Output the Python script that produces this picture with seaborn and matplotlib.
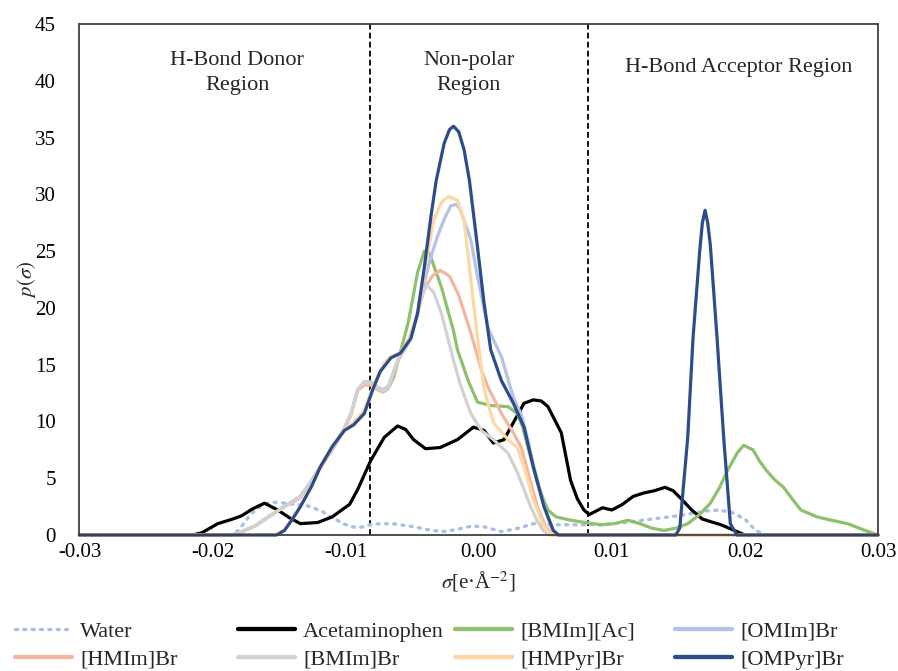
import matplotlib
matplotlib.use("Agg")
import matplotlib.pyplot as plt
import seaborn as sns
from matplotlib.lines import Line2D

# ---- sigma-profile data: sigma [e/A^2] and p(sigma) ----
water_sigma = [-0.030, -0.0184, -0.0178, -0.0171, -0.0163, -0.0156, -0.0145, -0.0128, -0.0118,
               -0.0111, -0.0102, -0.0094, -0.0088, -0.0079, -0.0065, -0.0050, -0.0035, -0.0025,
               -0.0012, -0.0005, 0.0005, 0.0017, 0.0030, 0.0041, 0.0055, 0.0070, 0.0092, 0.0110,
               0.0130, 0.0150, 0.0170, 0.0180, 0.0190, 0.0200, 0.0208, 0.0215, 0.030]
water_p = [0, 0, 0.8, 1.9, 2.6, 2.9, 2.8, 2.55, 2.1,
           1.6, 1.0, 0.7, 0.7, 0.97, 1.0, 0.75, 0.4, 0.3,
           0.6, 0.8, 0.7, 0.3, 0.6, 1.0, 0.9, 0.9, 0.9, 1.1,
           1.4, 1.7, 2.1, 2.2, 2.0, 1.4, 0.4, 0, 0]

acet_sigma = [-0.030, -0.0215, -0.0208, -0.0196, -0.0185, -0.0178, -0.0170, -0.0161, -0.0151,
              -0.0142, -0.0134, -0.0121, -0.0110, -0.0103, -0.0097, -0.0091, -0.0081, -0.0071,
              -0.0061, -0.0055, -0.0049, -0.0040, -0.0029, -0.0016, -0.0004, 0.0004, 0.0011,
              0.0019, 0.0026, 0.0034, 0.0041, 0.0047, 0.0052, 0.0062, 0.0069, 0.0074, 0.0079,
              0.0083, 0.0088, 0.0093, 0.0100, 0.0108, 0.0116, 0.0124, 0.0132, 0.0140, 0.0146,
              0.0152, 0.0160, 0.0168, 0.0182, 0.0192, 0.0200, 0.030]
acet_p = [0, 0, 0.2, 1.0, 1.4, 1.7, 2.3, 2.8, 2.2,
          1.5, 1.0, 1.1, 1.6, 2.2, 2.7, 4.0, 6.6, 8.6,
          9.6, 9.3, 8.4, 7.6, 7.7, 8.4, 9.5, 9.2, 8.1,
          8.4, 9.9, 11.6, 11.9, 11.8, 11.3, 9.0, 4.8, 3.2, 2.2,
          1.8, 2.1, 2.4, 2.2, 2.7, 3.4, 3.7, 3.9, 4.2, 3.9,
          3.2, 2.2, 1.4, 0.9, 0.4, 0, 0]

bmimac_sigma = [-0.030, -0.0185, -0.0178, -0.0168, -0.0158, -0.0146, -0.0134, -0.0125, -0.0116,
                -0.0108, -0.0101, -0.0096, -0.0091, -0.0086, -0.0081, -0.0076, -0.0072, -0.0068,
                -0.0064, -0.0058, -0.0053, -0.0046, -0.0041, -0.0037, -0.0028, -0.0019, -0.0016,
                -0.0008, -0.0001, 0.0009, 0.0022, 0.0029, 0.0033, 0.0037, 0.0044, 0.0049, 0.0052,
                0.0058, 0.0069, 0.0080, 0.0092, 0.0102, 0.0112, 0.0121, 0.0130, 0.0139, 0.0148,
                0.0157, 0.0166, 0.0174, 0.0181, 0.0187, 0.0194, 0.0199, 0.0206, 0.0211, 0.0216,
                0.0222, 0.0229, 0.0236, 0.0242, 0.0254, 0.0265, 0.0277, 0.0288, 0.0300]
bmimac_p = [0, 0, 0.3, 0.8, 1.6, 2.5, 3.4, 4.9, 6.6,
            8.0, 9.4, 10.7, 12.8, 13.3, 13.3, 12.8, 12.6, 12.9,
            13.9, 16.5, 18.7, 23.1, 25.0, 24.8, 21.8, 18.0, 16.3,
            13.6, 11.7, 11.4, 11.3, 10.7, 9.5, 7.7, 4.6, 3.0, 2.2,
            1.6, 1.3, 1.1, 0.9, 1.0, 1.3, 1.0, 0.6, 0.4, 0.6,
            1.0, 1.8, 2.8, 4.2, 5.7, 7.2, 7.9, 7.5, 6.5, 5.7,
            4.9, 4.2, 3.1, 2.2, 1.6, 1.3, 1.0, 0.5, 0]

omim_sigma = [-0.030, -0.0185, -0.0178, -0.0168, -0.0158, -0.0146, -0.0134, -0.0125, -0.0116,
              -0.0108, -0.0101, -0.0096, -0.0091, -0.0086, -0.0081, -0.0076, -0.0072, -0.0068,
              -0.0061, -0.0053, -0.0047, -0.0041, -0.0036, -0.0031, -0.0026, -0.0021, -0.0017,
              -0.0014, -0.0006, -0.0001, 0.0007, 0.0017, 0.0026, 0.0032, 0.0036, 0.0041, 0.0049,
              0.0055, 0.0059, 0.030]
omim_p = [0, 0, 0.3, 0.8, 1.6, 2.5, 3.3, 4.8, 6.5,
          7.9, 9.3, 10.6, 12.8, 13.5, 13.5, 13.0, 12.8, 13.1,
          15.3, 16.9, 19.0, 22.2, 24.5, 26.3, 27.8, 29.0, 29.1,
          28.7, 26.0, 22.8, 18.2, 15.7, 12.1, 10.6, 8.8, 6.2, 2.6,
          0.5, 0, 0]

hmim_sigma = [-0.030, -0.0185, -0.0178, -0.0168, -0.0158, -0.0146, -0.0134, -0.0125, -0.0116,
              -0.0108, -0.0101, -0.0096, -0.0091, -0.0086, -0.0081, -0.0076, -0.0072, -0.0068,
              -0.0061, -0.0053, -0.0047, -0.0041, -0.0035, -0.0029, -0.0022, -0.0015, -0.0006,
              0.0002, 0.0007, 0.0017, 0.0026, 0.0032, 0.0037, 0.0044, 0.0050, 0.0055, 0.030]
hmim_p = [0, 0, 0.3, 0.8, 1.6, 2.5, 3.3, 4.8, 6.5,
          7.9, 9.3, 10.6, 12.7, 13.2, 13.2, 12.8, 12.6, 12.9,
          15.3, 17.0, 19.2, 21.6, 22.8, 23.3, 22.8, 21.1, 17.8,
          14.5, 13.0, 10.7, 9.0, 7.7, 5.5, 2.5, 0.8, 0, 0]

bmimbr_sigma = [-0.030, -0.0185, -0.0178, -0.0168, -0.0158, -0.0146, -0.0134, -0.0125, -0.0116,
                -0.0108, -0.0101, -0.0096, -0.0091, -0.0086, -0.0081, -0.0076, -0.0072, -0.0068,
                -0.0061, -0.0053, -0.0047, -0.0042, -0.0039, -0.0034, -0.0028, -0.0019, -0.0014,
                -0.0006, 0.0002, 0.0011, 0.0022, 0.0029, 0.0034, 0.0039, 0.0044, 0.0049, 0.0053,
                0.030]
bmimbr_p = [0, 0, 0.3, 0.8, 1.6, 2.5, 3.4, 4.9, 6.6,
            8.0, 9.4, 10.7, 12.8, 13.4, 13.4, 12.9, 12.7, 13.0,
            15.4, 17.0, 19.2, 21.3, 22.0, 21.4, 19.5, 15.4, 13.3,
            10.7, 9.2, 8.4, 7.2, 5.5, 4.0, 2.5, 1.2, 0.3, 0,
            0]

hmpyr_sigma = [-0.030, -0.0152, -0.0146, -0.0140, -0.0134, -0.0126, -0.0119, -0.0110, -0.0101,
               -0.0094, -0.0086, -0.0079, -0.0071, -0.0066, -0.0059, -0.0051, -0.0046, -0.0041,
               -0.0034, -0.0028, -0.0023, -0.0016, -0.0011, -0.0006, -0.0001, 0.0004, 0.0011,
               0.0022, 0.0029, 0.0034, 0.0041, 0.0048, 0.0052, 0.0055, 0.030]
hmpyr_p = [0, 0, 0.4, 1.4, 2.5, 4.2, 6.0, 7.8, 9.3,
           9.9, 11.0, 13.2, 15.2, 15.7, 16.1, 17.5, 19.6, 23.0,
           27.7, 29.3, 29.8, 29.5, 27.7, 22.5, 17.5, 12.8, 9.9,
           8.4, 7.7, 6.0, 3.1, 1.0, 0.3, 0, 0]

ompyr_sigma = [-0.030, -0.0152, -0.0146, -0.0140, -0.0134, -0.0126, -0.0119, -0.0110, -0.0101,
               -0.0094, -0.0086, -0.0079, -0.0074, -0.0066, -0.0059, -0.0051, -0.0046, -0.0041,
               -0.0036, -0.0032, -0.0026, -0.0022, -0.0019, -0.0015, -0.0011, -0.0007, -0.0001,
               0.0004, 0.0009, 0.0017, 0.0026, 0.0034, 0.0041, 0.0049, 0.0056, 0.0060, 0.0148,
               0.0151, 0.0157, 0.0161, 0.0166, 0.0168, 0.0170, 0.0172, 0.0174, 0.0179, 0.0184,
               0.0189, 0.0194, 0.030]
ompyr_p = [0, 0, 0.4, 1.4, 2.5, 4.2, 6.0, 7.8, 9.2,
           9.7, 10.7, 13.0, 14.4, 15.6, 16.0, 17.3, 19.5, 23.5,
           28.0, 31.2, 34.5, 35.7, 36.0, 35.5, 33.9, 31.2, 25.4,
           20.4, 16.3, 13.6, 11.6, 9.5, 6.0, 2.5, 0.4, 0, 0,
           0.6, 8.6, 17.4, 25.0, 27.5, 28.6, 27.5, 25.5, 17.4, 8.6,
           1.0, 0, 0]

region_bounds = [-0.0082, 0.0082]
region_labels = ["H-Bond Donor\nRegion", "Non-polar\nRegion", "H-Bond Acceptor Region"]
region_label_x = [-0.01815, -0.00075, 0.0195]

x_ticks = [-0.03, -0.02, -0.01, 0.00, 0.01, 0.02, 0.03]
y_ticks = [0, 5, 10, 15, 20, 25, 30, 35, 40, 45]

series = [
    ("Water", water_sigma, water_p, "#a9bfe6", 2.4, (0, (0.6, 1.9))),
    ("Acetaminophen", acet_sigma, acet_p, "#000000", 2.3, "-"),
    ("[BMIm][Ac]", bmimac_sigma, bmimac_p, "#8fc06c", 2.3, "-"),
    ("[OMIm]Br", omim_sigma, omim_p, "#b3c3e6", 2.3, "-"),
    ("[HMIm]Br", hmim_sigma, hmim_p, "#f3b7a0", 2.3, "-"),
    ("[BMIm]Br", bmimbr_sigma, bmimbr_p, "#d2d2d2", 2.3, "-"),
    ("[HMPyr]Br", hmpyr_sigma, hmpyr_p, "#fed7a2", 2.3, "-"),
    ("[OMPyr]Br", ompyr_sigma, ompyr_p, "#2c4c8c", 2.3, "-"),
]

sns.set_theme(style="white")
plt.rcParams["font.family"] = ["Liberation Serif", "DejaVu Serif"]
plt.rcParams["mathtext.fontset"] = "stix"

fig = plt.figure(figsize=(8.98, 6.71), dpi=100)
ax = fig.add_axes([0.0885, 0.2027, 0.8893, 0.7615])

handles = []
for name, xs, ys, col, lw, ls in series:
    sns.lineplot(x=xs, y=ys, ax=ax, color=col, linewidth=lw, linestyle=ls,
                 estimator=None, sort=False, legend=False)
    line = ax.lines[-1]
    line.set_clip_on(False)
    line.set_solid_joinstyle("round")
    line.set_solid_capstyle("round")
    if ls != "-":
        line.set_dash_capstyle("round")
    h = Line2D([], [], color=col, linewidth=lw + 0.8 if ls == "-" else lw,
               linestyle=ls, dash_capstyle="round")
    handles.append((h, name))

for xb in region_bounds:
    ax.axvline(xb, color="black", linestyle=(0, (3.2, 1.8)), linewidth=1.3, zorder=1)

ax.text(region_label_x[0], 40.7, region_labels[0], ha="center", va="center",
        fontsize=16, linespacing=1.45)
ax.text(region_label_x[1], 40.7, region_labels[1], ha="center", va="center",
        fontsize=16, linespacing=1.45)
ax.text(region_label_x[2], 41.2, region_labels[2], ha="center", va="center", fontsize=16)

ax.set_xlim(-0.03, 0.03)
ax.set_ylim(0, 45)
ax.set_xticks(x_ticks)
ax.set_xticklabels([f"{v:.2f}" for v in x_ticks])
ax.set_yticks(y_ticks)
ax.tick_params(axis="both", direction="in", length=5, width=1, colors="#404040",
               labelcolor="black", labelsize=15)
ax.tick_params(axis="x", pad=6)
ax.tick_params(axis="y", pad=17)
for sp in ax.spines.values():
    sp.set_visible(True)
    sp.set_color("#404040")
    sp.set_linewidth(1.3)

ax.set_xlabel(r"$\sigma$[e·Å$^{-2}$]", fontsize=15, labelpad=5)
ax.set_ylabel(r"$p(\sigma)$", fontsize=15)
ax.yaxis.set_label_coords(-0.052, 0.5)

# legend laid out as four fixed-width columns of two rows each
col_x = [0.0167, 0.265, 0.5067, 0.7517]
for c in range(4):
    pair = [handles[c], handles[c + 4]]
    fig.legend([p[0] for p in pair], [p[1] for p in pair], loc="upper left",
               bbox_to_anchor=(col_x[c], 0.0745), frameon=False, fontsize=16,
               handlelength=2.57, handletextpad=0.36, labelspacing=0.34,
               borderaxespad=0, borderpad=0)

fig.savefig("out.png", dpi=100)
